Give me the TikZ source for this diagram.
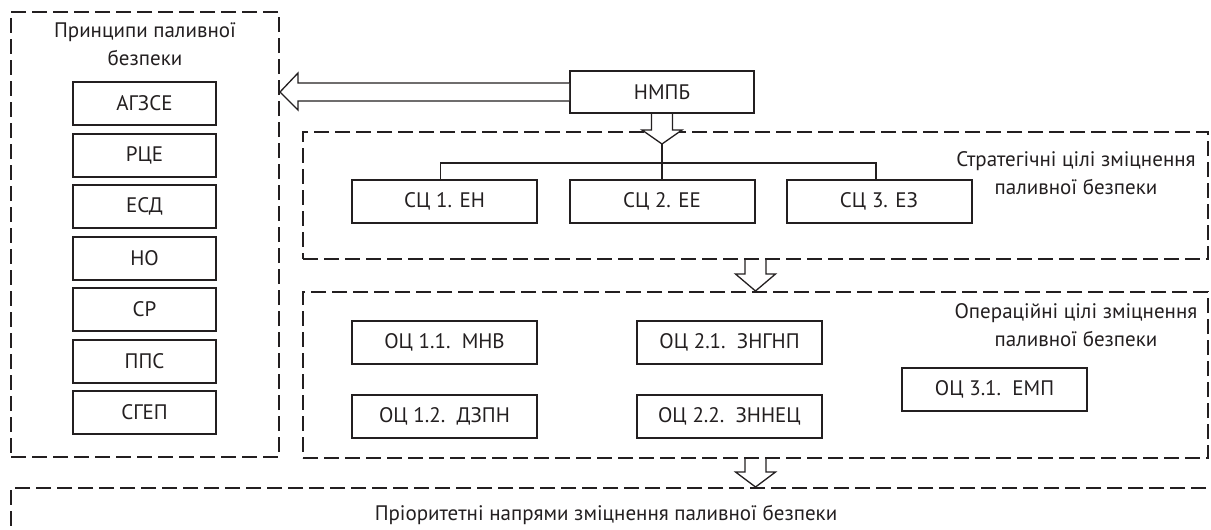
\documentclass[tikz,border=0pt]{standalone}
\usepackage{fontspec}
\setmainfont{PT Sans}
\usetikzlibrary{calc}
\definecolor{ink}{HTML}{231F20}
\newcommand\fs{\fontsize{21}{28}\selectfont}
\newcommand\dnarr[3]{%
  \draw[arr] let \p1=(#1), \p2=(#2) in
    (\x2-10.5pt,\y1) -- (\x2-10.5pt,\y2+#3) -- (\x2-20pt,\y2+#3) -- (\x2,\y2)
    -- (\x2+20pt,\y2+#3) -- (\x2+10.5pt,\y2+#3) -- (\x2+10.5pt,\y1);}
\begin{document}
\begin{tikzpicture}[x=1pt,y=-1pt,
  dbox/.style={draw=ink, line width=2pt, dash pattern=on 15pt off 6pt, inner sep=0pt},
  tbox/.style={draw=ink, line width=2pt, inner sep=0pt, minimum width=185pt, minimum height=43pt, font=\fs, text=ink},
  lbox/.style={tbox, minimum width=143pt},
  arr/.style={draw=ink, fill=white, line width=1.3pt, line join=miter},
  conn/.style={draw=ink, line width=1.3pt},
  ttl/.style={font=\fs, align=center, text=ink, inner sep=0pt}]
\useasboundingbox (0,0) rectangle (1211,530);
\clip (0,0) rectangle (1211,530);

% frames
\node[dbox, minimum width=268pt, minimum height=445pt] (pframe) at (145,234.5) {};
\node[dbox, minimum width=905pt, minimum height=127pt] (sframe) at (755.5,195.5) {};
\node[dbox, minimum width=905pt, minimum height=166pt] (oframe) at (755.5,375) {};
\node[dbox, minimum width=1230pt, minimum height=100pt] (bframe) at (626,538) {};

% titles
\node[ttl] (ptitle) at (145,44) {Принципи паливної\\безпеки};
\node[ttl] (stitle) at (1076,173) {Стратегічні цілі зміцнення\\паливної безпеки};
\node[ttl] (otitle) at (1076,325.5) {Операційні цілі зміцнення\\паливної безпеки};
\node[ttl] (btitle) at (606,515) {Пріоритетні напрями зміцнення паливної безпеки};

% principles
\node[lbox] (p1) at (144.5,103.5) {АГЗСЕ};
\node[lbox] (p2) at (144.5,155) {РЦЕ};
\node[lbox] (p3) at (144.5,206.5) {ЕСД};
\node[lbox] (p4) at (144.5,258) {НО};
\node[lbox] (p5) at (144.5,309.5) {СР};
\node[lbox] (p6) at (144.5,361) {ППС};
\node[lbox] (p7) at (144.5,412.5) {СГЕП};

% top
\node[tbox, minimum width=184pt, minimum height=42pt] (nmpb) at (662,92) {НМПБ};

% strategic
\node[tbox] (sc1) at (444.5,201.5) {СЦ 1. ЕН};
\node[tbox] (sc2) at (662,201.5) {СЦ 2. ЕЕ};
\node[tbox] (sc3) at (879,201.5) {СЦ 3. ЕЗ};

% operational
\node[tbox] (oc11) at (444.5,342.5) {ОЦ 1.1.\ \ МНВ};
\node[tbox] (oc12) at (444.5,416) {ОЦ 1.2.\ \ ДЗПН};
\node[tbox] (oc21) at (729.5,342.5) {ОЦ 2.1.\ \ ЗНГНП};
\node[tbox] (oc22) at (729.5,416) {ОЦ 2.2.\ \ ЗННЕЦ};
\node[tbox] (oc31) at (994.5,389.5) {ОЦ 3.1.\ \ ЕМП};

% left big arrow
\coordinate (ltip) at (pframe.east |- nmpb.west);
\draw[arr] ($(nmpb.west)+(0,-9)$) -- ($(ltip)+(18,-9)$) -- ($(ltip)+(18,-19)$) -- (ltip)
  -- ($(ltip)+(18,18)$) -- ($(ltip)+(18,9)$) -- ($(nmpb.west)+(0,9)$);

% down arrows
\coordinate (t1) at ($(nmpb.south)+(0,30)$);
\dnarr{nmpb.south}{t1}{14pt}
\dnarr{sframe.south}{oframe.north}{17pt}
\dnarr{oframe.south}{bframe.north -| oframe.south}{15pt}

% tree
\draw[conn] (t1) -- (sc2.north);
\draw[conn] ($(sc1.north)+(-4,0)$) -- ++(0,-16) -| ($(sc3.north)+(-3,0)$);
\end{tikzpicture}
\end{document}
